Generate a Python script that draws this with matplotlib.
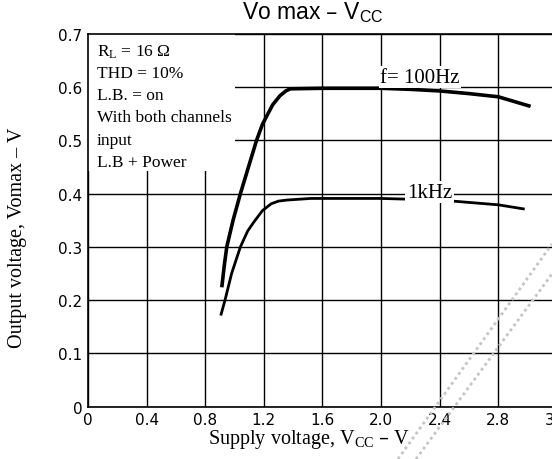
import matplotlib.pyplot as plt
from matplotlib.patches import Rectangle
from matplotlib.lines import Line2D

# Vo max vs supply voltage
vcc_100hz = [0.913, 0.93, 0.947, 0.99, 1.04, 1.095, 1.15, 1.19, 1.22, 1.26,
             1.31, 1.35, 1.38, 1.6, 2.0, 2.2, 2.4, 2.6, 2.8, 3.02]
vo_100hz = [0.224, 0.265, 0.30, 0.35, 0.40, 0.45, 0.50, 0.53, 0.546, 0.567,
            0.584, 0.593, 0.597, 0.598, 0.598, 0.596, 0.593, 0.588, 0.582, 0.564]

vcc_1khz = [0.906, 0.935, 0.98, 1.04, 1.09, 1.13, 1.19, 1.25, 1.30, 1.36,
            1.52, 2.0, 2.4, 2.8, 2.98]
vo_1khz = [0.171, 0.20, 0.25, 0.30, 0.33, 0.346, 0.368, 0.381, 0.386, 0.388,
           0.391, 0.391, 0.388, 0.379, 0.371]

x_ticks = [0, 0.4, 0.8, 1.2, 1.6, 2.0, 2.4, 2.8, 3.2]
x_labels = ['0', '0.4', '0.8', '1.2', '1.6', '2.0', '2.4', '2.8', '3.2']
y_ticks = [0, 0.1, 0.2, 0.3, 0.4, 0.5, 0.6, 0.7]
y_labels = ['0', '0.1', '0.2', '0.3', '0.4', '0.5', '0.6', '0.7']

conditions = ['$\\mathregular{R_L}$ = 16 Ω', 'THD = 10%', 'L.B. = on',
              'With both channels', 'input', 'L.B + Power']

serif = ['Liberation Serif', 'DejaVu Serif']

fig = plt.figure(figsize=(5.52, 4.60), dpi=100)
ax = fig.add_axes([0.1594, 0.1141, 0.8496, 0.8098])

ax.set_xlim(0, 3.2)
ax.set_ylim(0, 0.7)
ax.set_xticks(x_ticks)
ax.set_xticklabels(x_labels, fontsize=11)
ax.set_yticks(y_ticks)
ax.set_yticklabels(y_labels, fontsize=11)
ax.tick_params(length=0, pad=4)
ax.grid(True, color='black', linewidth=1.0)
ax.set_axisbelow(True)
for s in ax.spines.values():
    s.set_linewidth(1.2)

# blank out the grid behind the conditions text
ax.add_patch(Rectangle((0, 0.443), 1.0, 0.257, facecolor='white',
                       edgecolor='none', zorder=1.5))

ax.plot(vcc_100hz, vo_100hz, color='black', linewidth=2.6,
        solid_capstyle='butt', zorder=3)
ax.plot(vcc_1khz, vo_1khz, color='black', linewidth=2.0,
        solid_capstyle='butt', zorder=3)

box = dict(facecolor='white', edgecolor='none', pad=1)
ax.text(2.266, 0.619, 'f= 100Hz', family=serif, fontsize=15,
        ha='center', va='center', bbox=box, zorder=4)
ax.text(2.33, 0.403, '1kHz', family=serif, fontsize=15,
        ha='center', va='center', bbox=box, zorder=4)

for i, line in enumerate(conditions):
    ax.text(0.06, 0.668 - i * 0.0416, line, family=serif, fontsize=12.5,
            ha='left', va='center', zorder=4)

fig.text(309 / 552, 1 - 440 / 460, 'Supply voltage, $\\mathregular{V_{CC}}$ – V',
         family=serif, fontsize=14.5, ha='center', va='center')
fig.text(18 / 552, 1 - 238 / 460, 'Output voltage, Vomax – V', family=serif,
         fontsize=14.5, rotation=90, ha='center', va='center')

fig.text(313 / 552, 1 - 13 / 460, 'Vo max – $\\mathregular{V_{CC}}$',
         family=['Liberation Sans', 'DejaVu Sans'], fontsize=16.5,
         ha='center', va='center')

# faint dotted diagonal streaks across the lower right corner
for x0, x1, y1 in [(398, 552, 245), (416, 552, 275)]:
    fig.add_artist(Line2D([x0 / 552, x1 / 552], [0, 1 - y1 / 460],
                          transform=fig.transFigure, color='#c4c4c4',
                          linewidth=2.0, linestyle=(0, (1, 1.2)), zorder=5))

fig.savefig('out.png', dpi=100)
